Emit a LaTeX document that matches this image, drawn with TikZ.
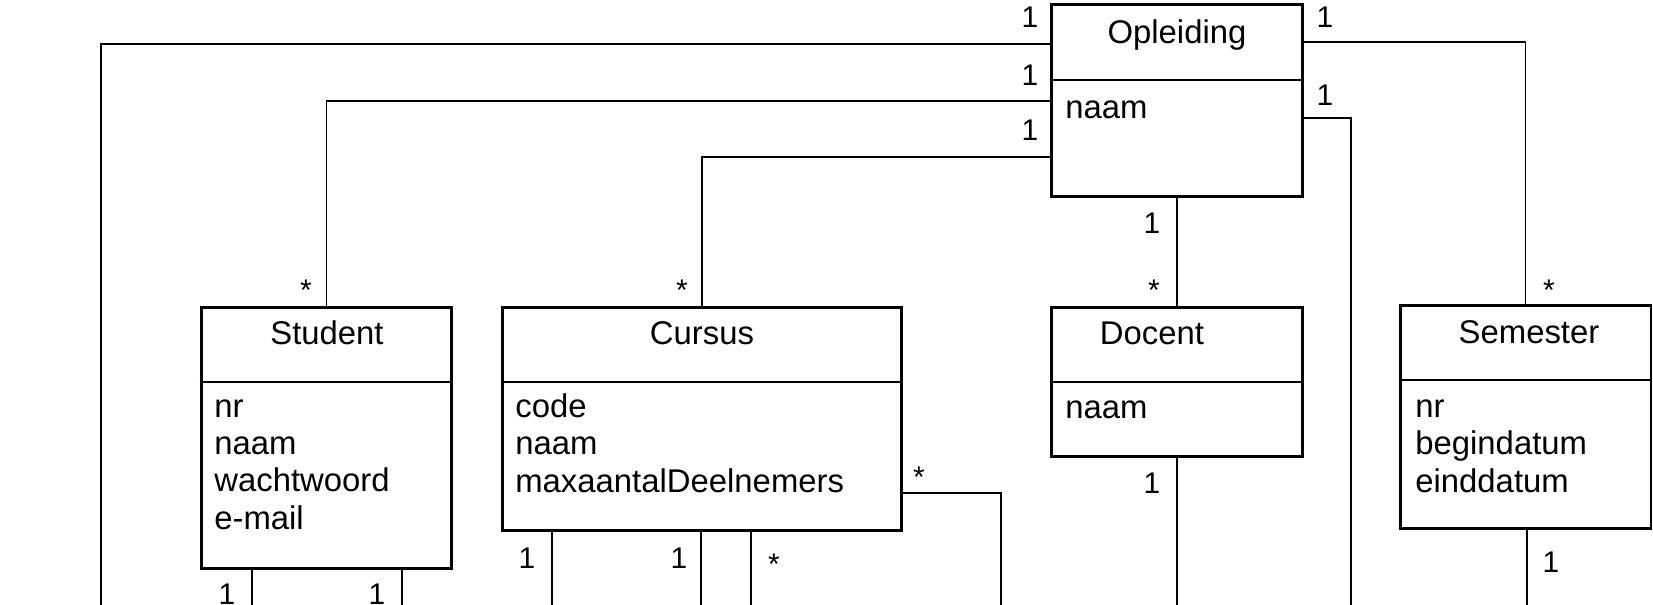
\documentclass[tikz,border=0pt]{standalone}
\usepackage{fontspec}
\setmainfont{Liberation Sans}
\begin{document}
\begin{tikzpicture}[x=0.02cm,y=-0.02cm,
	klasse/.style={draw, line width=1.7pt, inner sep=0pt},
	titel/.style={anchor=base, inner sep=0pt, font=\fontsize{18.7}{21.2}\selectfont},
	attr/.style={anchor=base west, align=left, inner sep=0pt, font=\fontsize{18.7}{21.2}\selectfont},
	mult/.style={anchor=base, inner sep=0pt, font=\fontsize{17}{20}\selectfont},
	deler/.style={line width=1.2pt},
	lijn/.style={line width=0.9pt}]
	\clip (0,0) rectangle (1653,605);
	\node[klasse, minimum width=5.04cm, minimum height=3.86cm] (opl) at (1177,100.5) {};
	\node[klasse, minimum width=5.02cm, minimum height=5.24cm] (stu) at (326.5,438) {};
	\node[klasse, minimum width=8cm, minimum height=4.48cm] (cur) at (702,419) {};
	\node[klasse, minimum width=5.04cm, minimum height=3cm] (doc) at (1177,382) {};
	\node[klasse, minimum width=5.02cm, minimum height=4.48cm] (sem) at (1525.5,417) {};
	\draw[deler] (opl.west |- 0,80) -- (opl.east |- 0,80);
	\draw[deler] (stu.west |- 0,382) -- (stu.east |- 0,382);
	\draw[deler] (cur.west |- 0,382) -- (cur.east |- 0,382);
	\draw[deler] (doc.west |- 0,382) -- (doc.east |- 0,382);
	\draw[deler] (sem.west |- 0,380) -- (sem.east |- 0,380);
	\node[titel] (opl-t) at (1177,43) {Opleiding};
	\node[titel] (stu-t) at (327,344) {Student};
	\node[titel] (cur-t) at (702,344) {Cursus};
	\node[titel] (doc-t) at (1152,344) {Docent};
	\node[titel] (sem-t) at (1529,343) {Semester};
	\node[attr] (opl-a) at (1065,118) {naam};
	\node[attr] (stu-a) at (214,529) {nr\\naam\\wachtwoord\\e-mail};
	\node[attr] (cur-a) at (515,492) {code\\naam\\maxaantalDeelnemers};
	\node[attr] (doc-a) at (1065,418) {naam};
	\node[attr] (sem-a) at (1415,492) {nr\\begindatum\\einddatum};
	\coordinate (u1) at (101,605);
	\coordinate (u2) at (252,605);
	\coordinate (u3) at (402,605);
	\coordinate (u4) at (552,605);
	\coordinate (u5) at (701,605);
	\coordinate (u6) at (751,605);
	\coordinate (u7) at (1001,605);
	\coordinate (u8) at (1177,605);
	\coordinate (u9) at (1351,605);
	\coordinate (u10) at (1527,605);
	\draw[lijn] (opl.west |- 0,44) -| (u1);
	\draw[lijn] (opl.west |- 0,101) -| (stu.north);
	\draw[lijn] (opl.west |- 0,157) -| (cur.north);
	\draw[lijn] (opl.south) -- (doc.north);
	\draw[lijn] (opl.east |- 0,42) -| (sem.north);
	\draw[lijn] (opl.east |- 0,118) -| (u9);
	\draw[lijn] (stu.south -| u2) -- (u2);
	\draw[lijn] (stu.south -| u3) -- (u3);
	\draw[lijn] (cur.south -| u4) -- (u4);
	\draw[lijn] (cur.south -| u5) -- (u5);
	\draw[lijn] (cur.south -| u6) -- (u6);
	\draw[lijn] (cur.east |- 0,493) -| (u7);
	\draw[lijn] (doc.south) -- (u8);
	\draw[lijn] (sem.south -| u10) -- (u10);
	\node[mult] (m1) at (1030,28) {1};
	\node[mult] (m2) at (1030,85) {1};
	\node[mult] (m3) at (1030,140) {1};
	\node[mult] (m4) at (1325,28) {1};
	\node[mult] (m5) at (1325,105) {1};
	\node[mult] (m6) at (1152,233) {1};
	\node[mult] (m7) at (306,300) {*};
	\node[mult] (m8) at (682,300) {*};
	\node[mult] (m9) at (1154,300) {*};
	\node[mult] (m10) at (1549,300) {*};
	\node[mult] (m11) at (227,604) {1};
	\node[mult] (m12) at (377,604) {1};
	\node[mult] (m13) at (527,568) {1};
	\node[mult] (m14) at (679,568) {1};
	\node[mult] (m15) at (774,574) {*};
	\node[mult] (m16) at (919,487) {*};
	\node[mult] (m17) at (1152,493) {1};
	\node[mult] (m18) at (1551,572) {1};
\end{tikzpicture}
\end{document}
